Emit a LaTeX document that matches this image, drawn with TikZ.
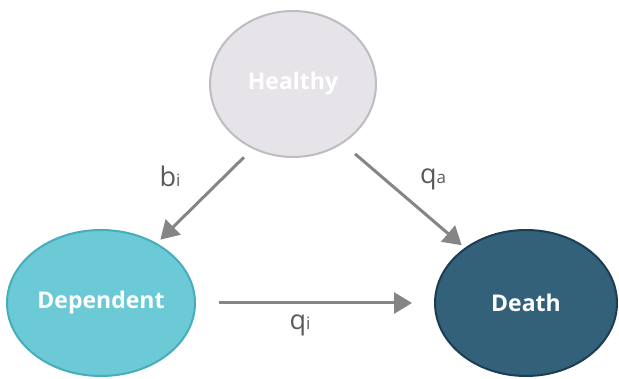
\documentclass[tikz,border=0pt]{standalone}
\usepackage{fontspec}
\setmainfont{Open Sans}
\usetikzlibrary{arrows.meta,shapes.geometric}
\definecolor{hfill}{HTML}{E6E3E9}
\definecolor{hdraw}{HTML}{BEBCC0}
\definecolor{dfill}{HTML}{6CCAD6}
\definecolor{ddraw}{HTML}{45ADBB}
\definecolor{xfill}{HTML}{336179}
\definecolor{xdraw}{HTML}{1C3D52}
\definecolor{arr}{HTML}{858585}
\definecolor{lab}{HTML}{5A5A5A}
\tikzset{
  state/.style={ellipse, inner sep=0pt, line width=2pt, text=white,
    font=\fontsize{23}{23}\selectfont\bfseries},
  flow/.style={draw=arr, line width=3pt, -{Triangle[length=18pt,width=21pt]}},
  rate/.style={text=lab, font=\fontsize{27}{27}\selectfont}
}
\newcommand{\sbx}[1]{{\fontsize{17}{17}\selectfont #1}}
\begin{document}
\begin{tikzpicture}[x=1pt,y=-1pt]
\useasboundingbox (0,0) rectangle (619,379);
\node[state, fill=hfill, draw=hdraw, minimum width=166pt, minimum height=146pt] (H) at (293,84) {Healthy};
\node[state, fill=dfill, draw=ddraw, minimum width=188pt, minimum height=146pt] (D) at (101,303) {Dependent};
\node[state, fill=xfill, draw=xdraw, minimum width=182pt, minimum height=146pt] (X) at (526,303) {Death};
\draw[flow, shorten <=12pt, shorten >=5pt] (H.238) -- (D.47);
\draw[flow, shorten <=16pt, shorten >=4pt] (H.310) -- (X.138);
\draw[flow, shorten <=23pt, shorten >=22pt] (D.east) -- (X.west);
\node[rate] (lb) at (170,176) {b\sbx{i}};
\node[rate] (lq) at (433,179) {q\sbx{a}};
\node[rate] (lqi) at (300,325) {q\sbx{i}};
\end{tikzpicture}
\end{document}
